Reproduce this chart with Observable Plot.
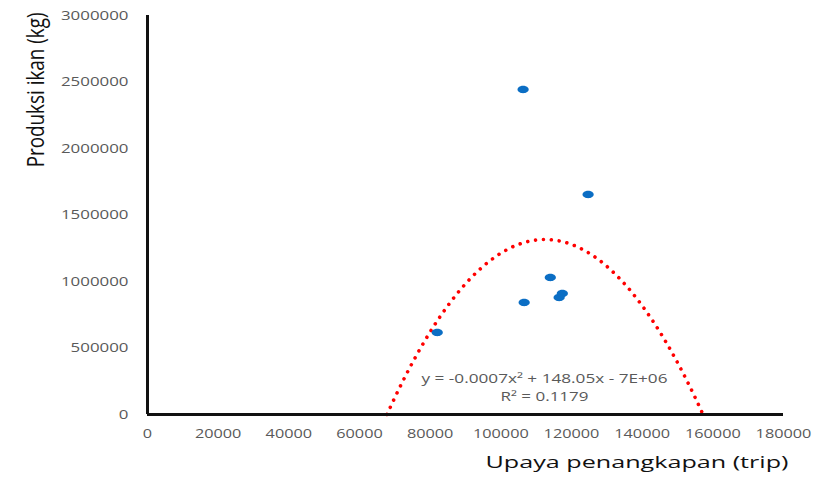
<!DOCTYPE html>
<html>
<head>
<meta charset="utf-8">
<script src="https://cdn.jsdelivr.net/npm/d3@7"></script>
<script src="https://cdn.jsdelivr.net/npm/@observablehq/plot@0.6"></script>
<style>
  html, body { margin: 0; padding: 0; background: #ffffff; }
  #chart svg { display: block; }
</style>
</head>
<body>
<div id="chart"></div>
<script>
// ---- data ----
const effort = [82000, 106300, 106600, 114000, 116500, 117400, 124700];          // Upaya penangkapan (trip)
const production = [617000, 2444000, 842000, 1030000, 880000, 910000, 1654000]; // Produksi ikan (kg)
const trendCoef = [-0.000658, 148.05, -7012000]; // polynomial trend: a x^2 + b x + c
const xTickValues = [0, 20000, 40000, 60000, 80000, 100000, 120000, 140000, 160000, 180000];
const yTickValues = [0, 500000, 1000000, 1500000, 2000000, 2500000, 3000000];
const equationLine1 = "y = -0.0007x² + 148.05x - 7E+06";
const equationLine2 = "R² = 0.1179";
const xTitle = "Upaya penangkapan (trip)";
const yTitle = "Produksi ikan (kg)";

const points = effort.map((x, i) => ({x, y: production[i]}));

// trend curve, drawn between its two zero crossings (as in the spreadsheet chart)
const [a, b, c] = trendCoef;
const disc = Math.sqrt(b * b - 4 * a * c);
const r1 = (-b + disc) / (2 * a), r2 = (-b - disc) / (2 * a);
const lo = Math.min(r1, r2), hi = Math.max(r1, r2);
const trend = d3.range(0, 301).map(i => {
  const x = lo + (hi - lo) * i / 300;
  return {x, y: Math.max(0, a * x * x + b * x + c)};
});

// horizontally stretched ellipse marker
const ellipse = {
  draw(ctx) {
    const rx = 5.6, ry = 3.7, k = 0.5523;
    ctx.moveTo(rx, 0);
    ctx.bezierCurveTo(rx, ry * k, rx * k, ry, 0, ry);
    ctx.bezierCurveTo(-rx * k, ry, -rx, ry * k, -rx, 0);
    ctx.bezierCurveTo(-rx, -ry * k, -rx * k, -ry, 0, -ry);
    ctx.bezierCurveTo(rx * k, -ry, rx, -ry * k, rx, 0);
    ctx.closePath();
  }
};

const gray = "#595959";
const font = "Open Sans";

const chart = Plot.plot({
  width: 813,
  height: 484,
  marginLeft: 147,
  marginRight: 30,
  marginTop: 15,
  marginBottom: 70,
  style: {background: "#ffffff", fontFamily: font, overflow: "visible"},
  x: {domain: [0, 180000]},
  y: {domain: [0, 3000000]},
  marks: [
    Plot.axisX({ticks: xTickValues, tickSize: 0, tickPadding: 14, tickFormat: d => String(d),
      fontSize: 13, fill: gray, label: null, fontFamily: font}),
    Plot.axisY({ticks: yTickValues, tickSize: 0, tickPadding: 19, tickFormat: d => String(d),
      fontSize: 13, fill: gray, label: null, fontFamily: font}),
    Plot.line(trend, {x: "x", y: "y", stroke: "#ff0000", strokeWidth: 3.6,
      strokeDasharray: "0.01 7.9", strokeLinecap: "round"}),
    Plot.dot(points, {x: "x", y: "y", symbol: ellipse, fill: "#0b6ec4", stroke: "none"}),
    Plot.ruleY([0], {stroke: "#111111", strokeWidth: 3}),
    Plot.ruleX([0], {stroke: "#111111", strokeWidth: 3}),
    Plot.text([equationLine1], {frameAnchor: "bottom", dx: 79, dy: -31.5,
      fontSize: 13, fill: gray, fontFamily: font}),
    Plot.text([equationLine2], {frameAnchor: "bottom", dx: 79, dy: -13.5,
      fontSize: 13, fill: gray, fontFamily: font}),
    Plot.text([xTitle], {frameAnchor: "bottom-right", textAnchor: "end", dx: 5, dy: 53,
      fontSize: 17, fill: "#111111", fontFamily: font}),
    Plot.text([yTitle], {frameAnchor: "top-left", textAnchor: "end", rotate: -90, dx: -120, dy: -3,
      fontSize: 23, fill: "#111111", fontFamily: font})
  ]
});

// mimic the horizontally stretched rendering of the reference text
function stretch(selector, lengthOf) {
  d3.select(chart).selectAll(selector).each(function () {
    this.setAttribute("textLength", lengthOf(this.textContent));
    this.setAttribute("lengthAdjust", "spacingAndGlyphs");
  });
}
function stretchText(content, length) {
  d3.select(chart).selectAll("text").filter(function () { return this.textContent === content; })
    .attr("textLength", length).attr("lengthAdjust", "spacingAndGlyphs");
}
stretch('g[aria-label="x-axis tick label"] text', t => t.length * 9.3);
stretch('g[aria-label="y-axis tick label"] text', t => t.length * 9.65);
stretchText(equationLine1, 246);
stretchText(equationLine2, 88);
stretchText(xTitle, 303);

document.getElementById("chart").appendChild(chart);

// condense the rotated y title along its reading direction with a scale transform
d3.select(chart).selectAll("text").filter(function () { return this.textContent === yTitle; })
  .each(function () {
    const natural = this.getComputedTextLength();
    const k = natural > 0 ? 155 / natural : 1;
    const t = this.getAttribute("transform") || "";
    this.setAttribute("transform", t + ` scale(${k},1)`);
  });
</script>
</body>
</html>
